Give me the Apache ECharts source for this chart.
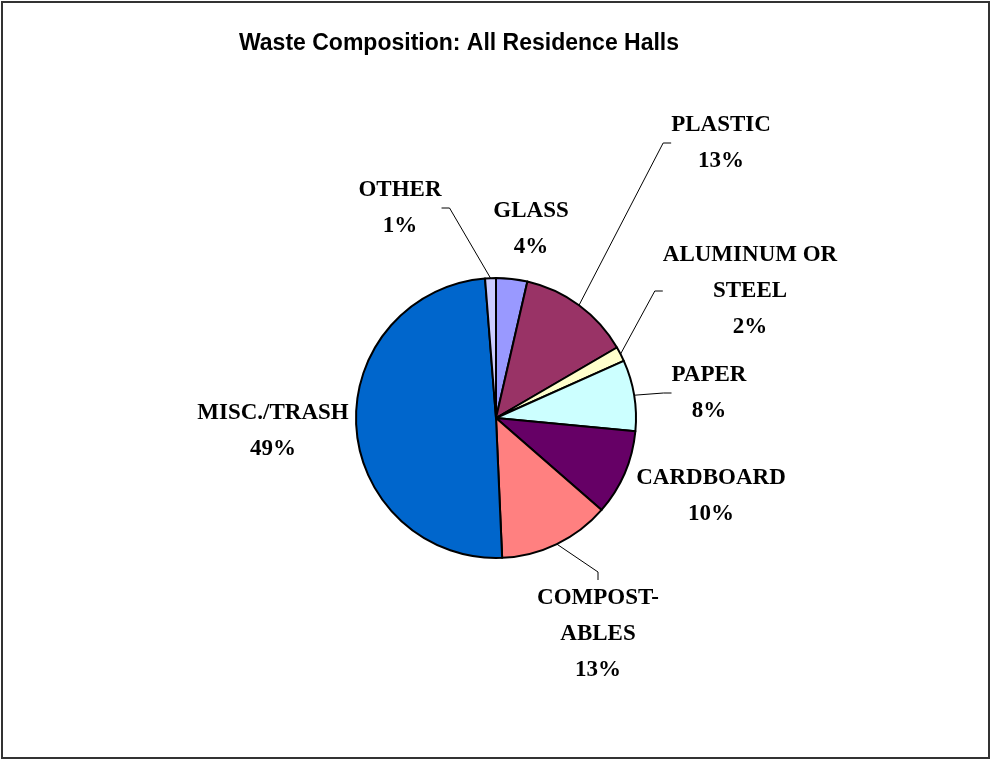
<!DOCTYPE html>
<html>
<head>
<meta charset="utf-8">
<script src="https://cdn.jsdelivr.net/npm/echarts@6/dist/echarts.min.js"></script>
<style>
html,body{margin:0;padding:0;background:#fff;}
#chart{width:992px;height:761px;}
</style>
</head>
<body>
<div id="chart"></div>
<script>
// Data (clockwise from 12 o'clock)
var categories = ['GLASS', 'PLASTIC', 'ALUMINUM OR\nSTEEL', 'PAPER', 'CARDBOARD', 'COMPOST-\nABLES', 'MISC./TRASH', 'OTHER'];
var values = [3.6, 13.0, 1.7, 8.2, 9.9, 12.9, 49.45, 1.25];
var colors = ['#9999FF', '#993366', '#FFFFCC', '#CCFFFF', '#660066', '#FF8080', '#0066CC', '#CCCCFF'];
var showLeader = [false, true, true, true, false, true, false, true];

// Label block centres (layout, not data)
var labelPos = [[531, 229], [721, 143], [750, 291], [709, 393], [711, 496], [598, 634], [273, 431], [400, 208]];

var chart = echarts.init(document.getElementById('chart'));
var data = categories.map(function (c, i) {
  return {
    name: c,
    value: values[i],
    itemStyle: { color: colors[i] },
    labelLine: { show: showLeader[i] }
  };
});

chart.setOption({
  animation: false,
  title: {
    text: 'Waste Composition: All Residence Halls',
    left: 454, top: 27, textAlign: 'center',
    textStyle: { fontFamily: 'Liberation Sans, Arial, sans-serif', fontWeight: 'bold', fontSize: 23, color: '#000' }
  },
  graphic: [{
    type: 'rect', silent: true,
    shape: { x: 2, y: 2, width: 987, height: 756 },
    style: { fill: 'none', stroke: '#333', lineWidth: 2 }
  }],
  series: [{
    type: 'pie',
    center: [496, 418],
    radius: 140,
    startAngle: 90,
    clockwise: true,
    percentPrecision: 0,
    data: data,
    itemStyle: { borderColor: '#000', borderWidth: 2 },
    label: {
      show: true,
      formatter: '{b}\n{d}%',
      fontFamily: 'Liberation Serif, Times New Roman, serif',
      fontWeight: 'bold',
      fontSize: 23,
      lineHeight: 36,
      color: '#000',
      align: 'center'
    },
    labelLine: { show: true, length: 10, length2: 8, lineStyle: { color: '#000', width: 1 } },
    labelLayout: function (params) {
      var p = labelPos[params.dataIndex];
      return { x: p[0], y: p[1], align: 'center', verticalAlign: 'middle' };
    },
    emphasis: { disabled: true }
  }]
});
</script>
</body>
</html>
